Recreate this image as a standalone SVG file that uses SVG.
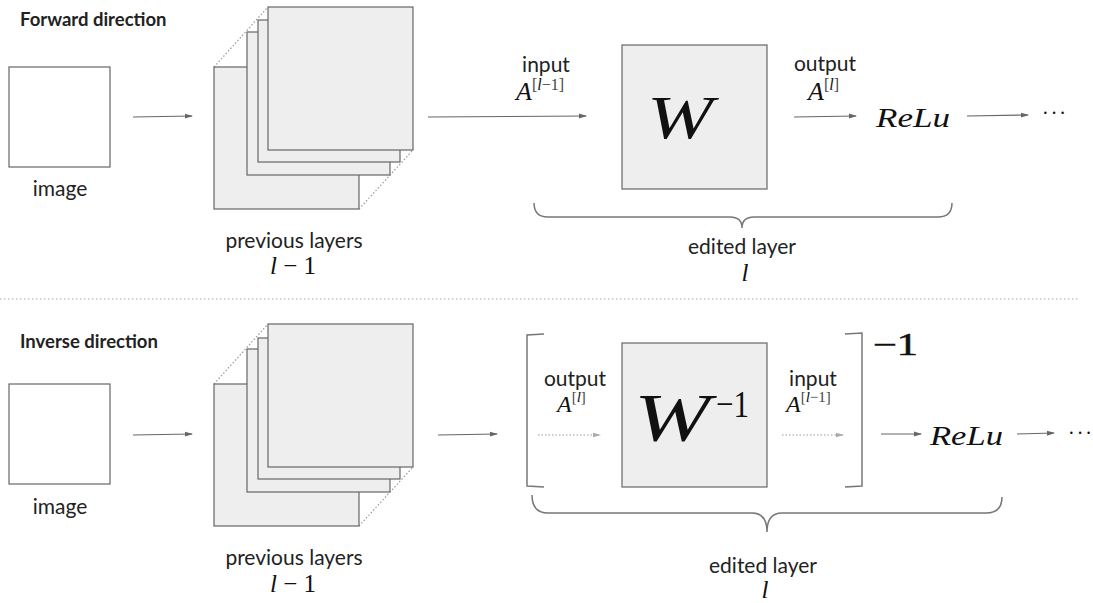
<svg xmlns="http://www.w3.org/2000/svg" width="1093" height="603" viewBox="0 0 1093 603">
<style>
.lbl{font-family:Lato,"Open Sans","Liberation Sans",sans-serif;font-size:21px;fill:#222;}
.ttl{font-family:Lato,"Open Sans","Liberation Sans",sans-serif;font-size:18.5px;font-weight:bold;fill:#222;}
.math{font-family:"Liberation Serif","DejaVu Serif",serif;font-style:italic;fill:#111;}
.num{font-family:"Liberation Serif","DejaVu Serif",serif;fill:#111;}
.sup{font-family:"Liberation Serif","DejaVu Serif",serif;fill:#444;}
.img{fill:#fff;stroke:#666;stroke-width:1.2;}
.lay{fill:#eeeeee;stroke:#666;stroke-width:1.2;}
.edge{stroke:#666;stroke-width:1.2;fill:none;}
.dot{stroke:#999;stroke-width:1.2;fill:none;stroke-dasharray:1.5 2;}
.br{stroke:#777;stroke-width:1.5;fill:none;}
</style>
<defs>
<marker id="ah" markerWidth="8" markerHeight="6" refX="7" refY="3" orient="auto" markerUnits="userSpaceOnUse">
<path d="M0,0.5 L8,3 L0,5.5 Z" fill="#666"/>
</marker>
<marker id="ahd" markerWidth="8" markerHeight="6" refX="7" refY="3" orient="auto" markerUnits="userSpaceOnUse">
<path d="M0,0.8 L8,3 L0,5.2 Z" fill="#aaa"/>
</marker>
</defs>

<!-- Forward -->
<text class="ttl" x="20" y="26">Forward direction</text>
<g id="image1">
<rect class="img" x="9" y="67" width="101" height="100"/>
<text class="lbl" x="60" y="196" text-anchor="middle">image</text>
</g>
<g id="prev1">
<line class="dot" x1="214" y1="67" x2="268" y2="7"/>
<line class="dot" x1="359" y1="209" x2="413" y2="150"/>
<rect class="lay" x="214" y="67" width="145" height="142"/>
<rect class="lay" x="247" y="32" width="143" height="143"/>
<rect class="lay" x="258" y="20" width="142" height="142"/>
<rect class="lay" x="268" y="7" width="145" height="143"/>
<text class="lbl" x="294" y="248" text-anchor="middle">previous layers</text>
<text x="293" y="274" text-anchor="middle"><tspan class="math" font-size="25">l</tspan><tspan class="num" font-size="25"> − 1</tspan></text>
</g>
<g id="W1">
<rect class="lay" x="622" y="45" width="145" height="144"/>
<text class="math" x="647" y="138" font-size="62" textLength="66" lengthAdjust="spacingAndGlyphs">W</text>
</g>
<g id="labels1">
<text class="lbl" x="546" y="72" text-anchor="middle" font-size="20">input</text>
<text x="516" y="100"><tspan class="math" font-size="26">A</tspan><tspan class="sup" font-size="16" dy="-10">[</tspan><tspan class="math" font-size="16">l</tspan><tspan class="sup" font-size="16">−1]</tspan></text>
<text class="lbl" x="825" y="71" text-anchor="middle" font-size="20">output</text>
<text x="808" y="100"><tspan class="math" font-size="26">A</tspan><tspan class="sup" font-size="16" dy="-10">[</tspan><tspan class="math" font-size="16">l</tspan><tspan class="sup" font-size="16">]</tspan></text>
<text class="math" x="876" y="127" font-size="27" textLength="74" lengthAdjust="spacingAndGlyphs">ReLu</text>
<text class="num" x="1055" y="120" font-size="20" letter-spacing="2" text-anchor="middle">···</text>
</g>
<g id="brace1">
<path class="br" d="M534,203 Q534,217 548,217 L730,217 Q742,217 742,228 Q742,217 754,217 L938,217 Q952,217 952,203"/>
<text class="lbl" x="742" y="254" text-anchor="middle">edited layer</text>
<text class="math" x="745" y="281" font-size="25" text-anchor="middle">l</text>
</g>

<line x1="0" y1="299" x2="1080" y2="299" stroke="#aaa" stroke-width="1.2" stroke-dasharray="1.5 2.5"/>

<!-- Inverse -->
<text class="ttl" x="20" y="348">Inverse direction</text>
<g id="image2">
<rect class="img" x="9" y="384" width="101" height="100"/>
<text class="lbl" x="60" y="514" text-anchor="middle">image</text>
</g>
<g id="prev2">
<line class="dot" x1="214" y1="384" x2="268" y2="324"/>
<line class="dot" x1="359" y1="526" x2="413" y2="467"/>
<rect class="lay" x="214" y="384" width="145" height="142"/>
<rect class="lay" x="247" y="349" width="143" height="143"/>
<rect class="lay" x="258" y="338" width="142" height="141"/>
<rect class="lay" x="268" y="324" width="145" height="143"/>
<text class="lbl" x="294" y="565" text-anchor="middle">previous layers</text>
<text x="293" y="592" text-anchor="middle"><tspan class="math" font-size="25">l</tspan><tspan class="num" font-size="25"> − 1</tspan></text>
</g>
<g id="brackets">
<path class="br" d="M544,334 L527,335 L527,486 L544,487"/>
<path class="br" d="M845,334 L862,333 L862,486 L845,487"/>
<text class="num" x="873" y="355" font-size="31" stroke="#111" stroke-width="0.6" textLength="45" lengthAdjust="spacingAndGlyphs">−1</text>
</g>
<g id="W2">
<rect class="lay" x="622" y="343" width="145" height="144"/>
<text class="math" x="634" y="440" font-size="68" textLength="76" lengthAdjust="spacingAndGlyphs">W</text>
<text class="num" x="716" y="417" font-size="38" textLength="33" lengthAdjust="spacingAndGlyphs">−1</text>
</g>
<g id="labels2">
<text class="lbl" x="575" y="386" text-anchor="middle" font-size="20">output</text>
<text x="557" y="412"><tspan class="math" font-size="24">A</tspan><tspan class="sup" font-size="15" dy="-10">[</tspan><tspan class="math" font-size="15">l</tspan><tspan class="sup" font-size="15">]</tspan></text>
<text class="lbl" x="813" y="386" text-anchor="middle" font-size="20">input</text>
<text x="786" y="412"><tspan class="math" font-size="24">A</tspan><tspan class="sup" font-size="15" dy="-10">[</tspan><tspan class="math" font-size="15">l</tspan><tspan class="sup" font-size="15">−1]</tspan></text>
<text class="math" x="930" y="445" font-size="27" textLength="73" lengthAdjust="spacingAndGlyphs">ReLu</text>
<text class="num" x="1081" y="440" font-size="20" letter-spacing="2" text-anchor="middle">···</text>
</g>
<g id="brace2">
<path class="br" d="M532,495 Q532,513 548,513 L752,513 Q767,513 767,532 Q767,513 782,513 L986,513 Q1002,513 1002,497"/>
<text class="lbl" x="763" y="573" text-anchor="middle">edited layer</text>
<text class="math" x="765" y="598" font-size="25" text-anchor="middle">l</text>
</g>

<g id="connectors">
<line class="edge" x1="133" y1="117" x2="192" y2="116" marker-end="url(#ah)"/>
<line class="edge" x1="428" y1="117" x2="586" y2="116" marker-end="url(#ah)"/>
<line class="edge" x1="794" y1="117" x2="856" y2="116" marker-end="url(#ah)"/>
<line class="edge" x1="967" y1="116" x2="1028" y2="115" marker-end="url(#ah)"/>
<line class="edge" x1="133" y1="435" x2="192" y2="434" marker-end="url(#ah)"/>
<line class="edge" x1="438" y1="435" x2="497" y2="434" marker-end="url(#ah)"/>
<line class="dot" x1="538" y1="435" x2="600" y2="435" marker-end="url(#ahd)"/>
<line class="dot" x1="782" y1="435" x2="843" y2="435" marker-end="url(#ahd)"/>
<line class="edge" x1="881" y1="434" x2="921" y2="434" marker-end="url(#ah)"/>
<line class="edge" x1="1017" y1="434" x2="1054" y2="433" marker-end="url(#ah)"/>
</g>
</svg>
